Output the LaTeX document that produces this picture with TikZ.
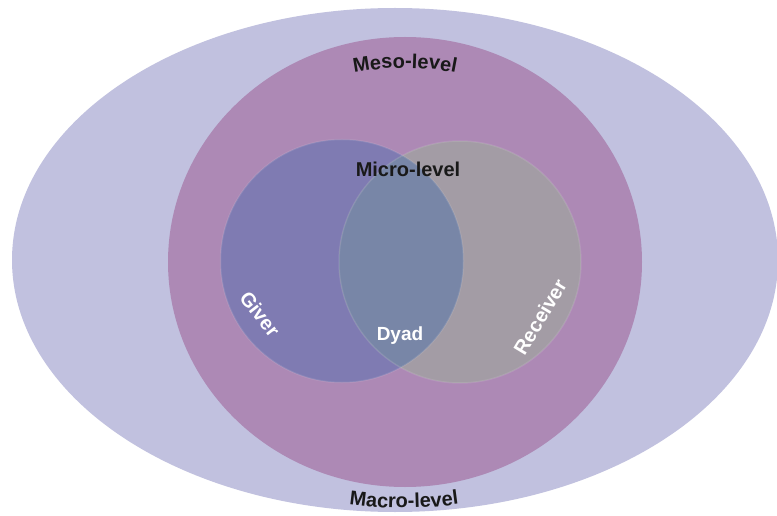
\documentclass[tikz,border=0pt]{standalone}
\usepackage{fontspec}
\setmainfont{Liberation Sans}
\usetikzlibrary{decorations.text}

\definecolor{macrofill}{HTML}{C1C1DF}
\definecolor{mesofill}{HTML}{AD89B5}
\definecolor{giverfill}{HTML}{7F7BB2}
\definecolor{receiverfill}{HTML}{A39CA5}
\definecolor{dyadfill}{HTML}{7886A7}

\tikzstyle{rim}=[draw=white, draw opacity=.1, line width=1.5pt]
\tikzstyle{lbl}=[font=\bfseries\fontsize{20}{20}\selectfont, text=black!90, inner sep=0pt]
\tikzstyle{wlbl}=[lbl, text=white]

\begin{document}
\begin{tikzpicture}[x=1pt, y=1pt]
  \clip (0,0) rectangle (777,515);
  \fill[white] (0,0) rectangle (777,515);
  % levels
  \fill[macrofill] (395,255) ellipse [x radius=383, y radius=252];
  \fill[mesofill] (405,253) ellipse [x radius=237, y radius=225];
  \fill[giverfill] (342,254) circle (121.5);
  \fill[receiverfill] (460,253) circle (121);
  \begin{scope}
    \clip (342,254) circle (121.5);
    \fill[dyadfill] (460,253) circle (121);
  \end{scope}
  \draw[rim] (342,254) circle (121.5);
  \draw[rim] (460,253) circle (121);
  % curved level names
  \path[decorate, decoration={text along path, text align=center,
      text={|\bfseries\fontsize{20}{20}\selectfont\color{black!90}|Meso-level}}]
    (405,187) ++(114:260) arc (114:66:260);
  \path[decorate, decoration={text along path, text align=center,
      text={|\bfseries\fontsize{20}{20}\selectfont\color{black!90}|Macro-level}}]
    (404,407) ++(258:400) arc (258:282:400);
  % labels
  \node[lbl] (micro) at (408,346) {Micro-level};
  \node[wlbl, font=\bfseries\fontsize{19}{19}\selectfont] (dyad) at (400,179) {Dyad};
  \node[wlbl, rotate=-52] (giver) at (260,201) {Giver};
  \node[wlbl, rotate=59] (receiver) at (540,198) {Receiver};
\end{tikzpicture}
\end{document}
